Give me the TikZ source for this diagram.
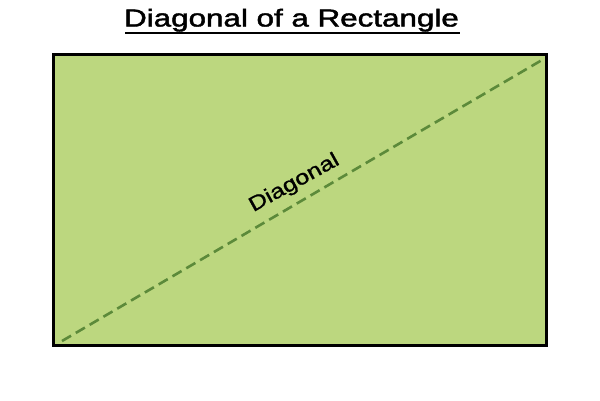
\documentclass[tikz,border=0pt]{standalone}
\usepackage{fontspec}
\setmainfont{Liberation Sans}
\newfontfamily\medfont[FakeBold=1.6]{Liberation Sans}
\newfontfamily\lblfont[FakeBold=1.0]{Liberation Sans}
\definecolor{rectfill}{RGB}{188,215,127}
\definecolor{diagcol}{RGB}{92,138,58}
\begin{document}
\begin{tikzpicture}[x=1pt,y=-1pt,
  titlestyle/.style={inner sep=0pt,anchor=base,font=\medfont\fontsize{24.5}{28}\selectfont},
  labelstyle/.style={inner sep=0pt,anchor=base,font=\lblfont\fontsize{20.5}{24}\selectfont},
  rectstyle/.style={draw=black,line width=3pt,fill=rectfill,inner sep=0pt,minimum width=493pt,minimum height=291pt},
  diagstyle/.style={draw=diagcol,line width=2.6pt,dash pattern=on 10.5pt off 5.5pt}]
\useasboundingbox (0,0) rectangle (600,400);
\fill[white] (0,0) rectangle (600,400);
\node[titlestyle] (title) at (291.5,26.5) {\scalebox{1.28}[1]{Diagonal of a Rectangle}};
\draw[line width=2pt] (125,33.3) coordinate (ul1) -- (460,33.3) coordinate (ul2);
\node[rectstyle] (rect) at (300,200) {};
\coordinate (A) at (62,341);
\coordinate (B) at (542,60);
\draw[diagstyle] (A) -- (B);
\node[labelstyle,rotate=29] (lbl) at (297,188) {\scalebox{1.23}[1]{Diagonal}};
\end{tikzpicture}
\end{document}
